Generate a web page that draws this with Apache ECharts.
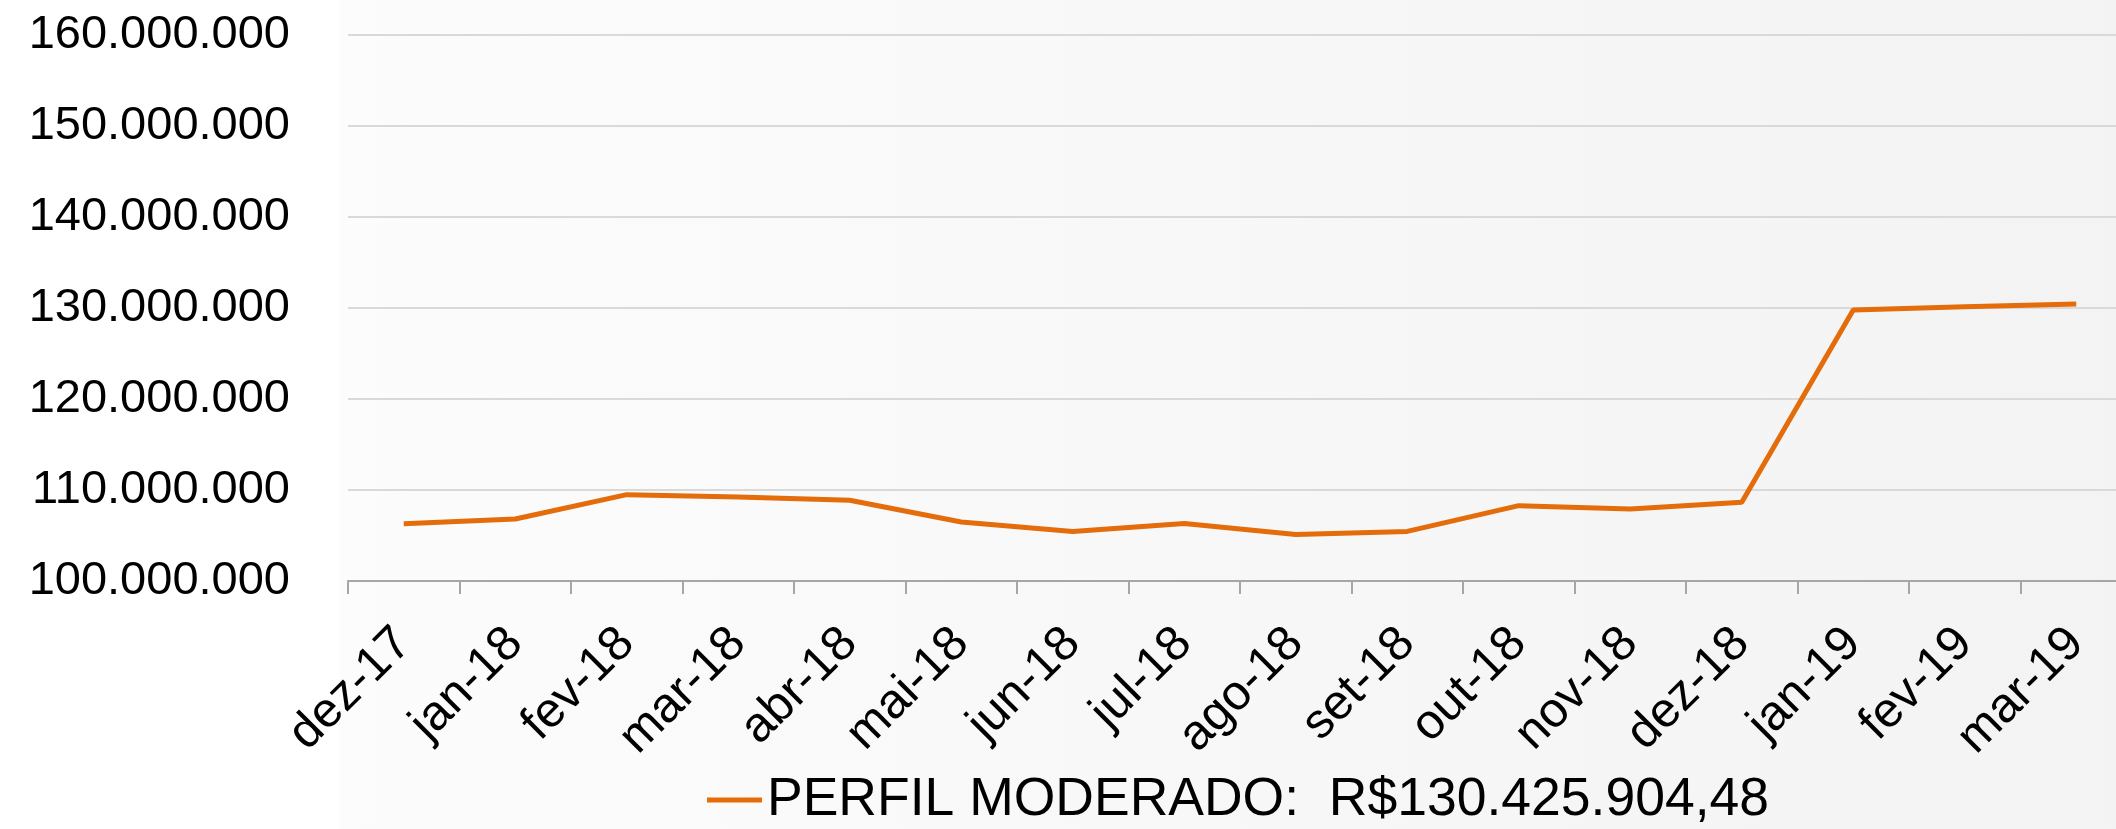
<!DOCTYPE html>
<html>
<head>
<meta charset="utf-8">
<script src="https://cdn.jsdelivr.net/npm/echarts@6/dist/echarts.min.js"></script>
<style>
  html, body { margin: 0; padding: 0; background: #fff; }
  #chart { width: 2116px; height: 829px; }
</style>
</head>
<body>
<div id="chart"></div>
<script>
// meses (eixo x)
const categories = ['dez-17', 'jan-18', 'fev-18', 'mar-18', 'abr-18', 'mai-18', 'jun-18', 'jul-18',
  'ago-18', 'set-18', 'out-18', 'nov-18', 'dez-18', 'jan-19', 'fev-19', 'mar-19'];

// patrimonio em R$
const moderado = [106300000, 106810000, 109490000, 109230000, 108870000, 106480000, 105450000, 106330000,
  105120000, 105450000, 108280000, 107910000, 108650000, 129790000, 130150000, 130425904.48];

const seriesName = 'PERFIL MODERADO:  R$130.425.904,48';
const yMin = 100000000;
const yMax = 160000000;
const yStep = 10000000;

const fontFamily = '"Liberation Sans", Arial, sans-serif';

const fmt = v => String(Math.round(v)).replace(/\B(?=(\d{3})+(?!\d))/g, '.');

const chart = echarts.init(document.getElementById('chart'));

const option = {
  animation: false,
  backgroundColor: new echarts.graphic.LinearGradient(0, 0, 1, 0, [
    { offset: 0, color: '#ffffff' },
    { offset: 0.16, color: '#ffffff' },
    { offset: 0.161, color: '#fcfcfc' },
    { offset: 1, color: '#f3f3f4' },
  ]),
  // o grafico original e cortado a direita, o eixo passa da borda
  grid: {
    left: 348,
    width: 1784,
    top: 35,
    bottom: 248,
    containLabel: false,
    outerBoundsMode: 'none',
  },
  legend: {
    left: 702,
    top: 768,
    icon: 'rect',
    itemWidth: 55,
    itemHeight: 5,
    itemGap: 6,
    textStyle: {
      fontFamily,
      fontSize: 53.5,
      color: '#000',
    },
    data: [seriesName],
  },
  xAxis: {
    type: 'category',
    data: categories,
    boundaryGap: true,
    axisLine: { lineStyle: { color: '#a6a6a6', width: 2 } },
    axisTick: { show: true, length: 13, lineStyle: { color: '#a6a6a6', width: 2 } },
    axisLabel: {
      rotate: 45,
      margin: 55,
      interval: 0,
      fontFamily,
      fontSize: 49,
      color: '#000',
    },
  },
  yAxis: {
    type: 'value',
    min: yMin,
    max: yMax,
    interval: yStep,
    axisLine: { show: false },
    axisTick: { show: false },
    splitLine: { lineStyle: { color: '#d9d9d9', width: 2 } },
    axisLabel: {
      margin: 58,
      fontFamily,
      fontSize: 47,
      color: '#000',
      formatter: fmt,
    },
  },
  series: [{
    name: seriesName,
    type: 'line',
    data: moderado,
    symbol: 'none',
    itemStyle: { color: '#e46c0a' },
    lineStyle: { color: '#e46c0a', width: 5 },
  }],
};

chart.setOption(option);
</script>
</body>
</html>
